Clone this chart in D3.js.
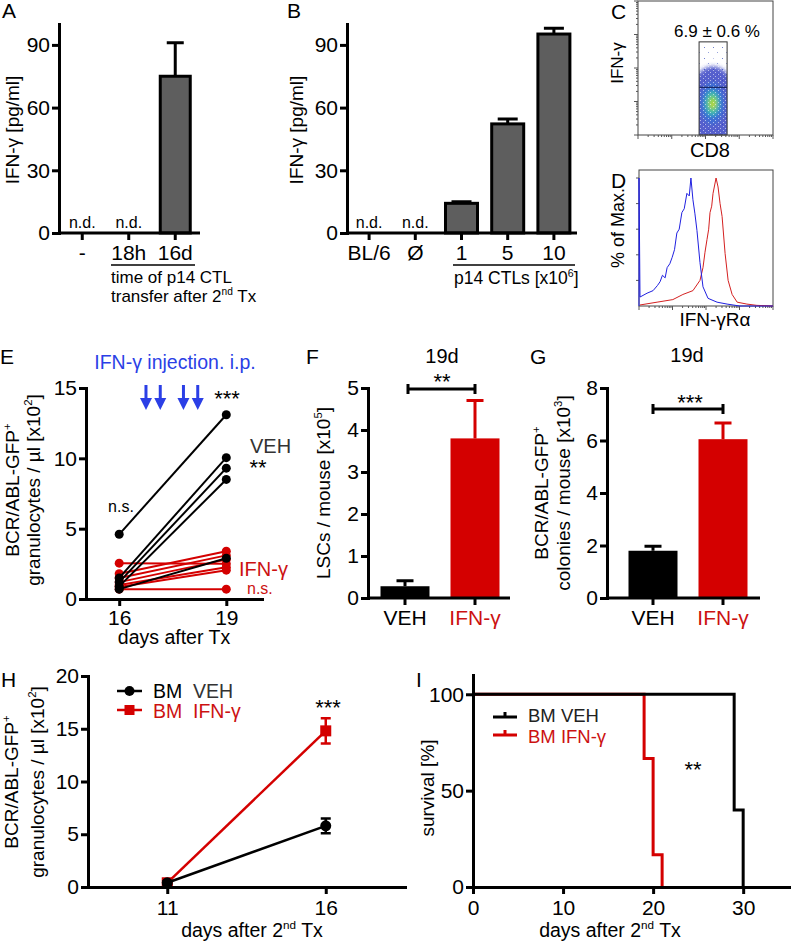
<!DOCTYPE html>
<html>
<head>
<meta charset="utf-8">
<script src="https://cdnjs.cloudflare.com/ajax/libs/d3/7.8.5/d3.min.js"></script>
<style>
  body { margin: 0; background: #fff; }
  svg text { font-family: "Liberation Sans", Arial, sans-serif; }
</style>
</head>
<body>
<svg id="canvas" width="791" height="942"></svg>
<script>
// ---------- data ----------
let aCats = ["-", "18h", "16d"]
let aMeans = [null, null, 75]
let aErrs = [null, null, 16]

let bCats = ["BL/6", "Ø", "1", "5", "10"]
let bMeans = [null, null, 14.2, 52.2, 95.2]
let bErrs = [null, null, 0.8, 2.3, 2.8]

// C: gate in decades (CD8 low, CD8 high, IFN-g low, IFN-g high)
let cGate = [1.81, 2.64, 0, 2.78]
let cQuadLine = 1.42
let cDensityCD8 = [2.22, 2.2, 2.2, 2.21, 2.22]
let cDensityIFN = [0.9, 0.95, 0.95, 0.95, 0.92]
let cSpreadCD8 = [0.75, 0.34, 0.22, 0.13, 0.05]
let cSpreadIFN = [1.15, 0.62, 0.38, 0.22, 0.09]

// D: histograms, x in decades, y in % of max
let dBlueLog = [0, 0, 0.03, 0.24, 0.42, 0.55, 0.63, 0.7, 0.78, 0.84, 0.92, 0.99, 1.06, 1.13, 1.2, 1.28, 1.35, 1.43, 1.5, 1.55, 1.61, 1.67, 1.73, 1.82, 1.91, 2.06, 2.33, 2.63, 3.01, 4]
let dBluePct = [0, 100, 7, 10, 12, 16, 19, 24, 22, 30, 33, 38, 44, 57, 60, 73, 76, 88, 86, 100, 83, 72, 59, 34, 15, 6, 3, 1.5, 0, 0]
let dRedLog = [0.03, 0.54, 1.01, 1.31, 1.61, 1.82, 1.91, 1.97, 2.03, 2.08, 2.12, 2.17, 2.21, 2.3, 2.36, 2.42, 2.48, 2.57, 2.66, 2.78, 2.93, 3.22, 3.52, 4]
let dRedPct = [0.8, 3, 5, 9, 12, 20, 30, 42, 52, 60, 73, 78, 88, 100, 93, 80, 70, 41, 20, 9, 3, 1.5, 0.5, 0]

// E: granulocytes per mouse, day 16 -> day 19
let eDays = [16, 19]
let eVeh16 = [4.6, 1.5, 1.2, 0.9, 0.7]
let eVeh19 = [13.1, 10.05, 9.3, 8.5, 2.9]
let eIfn16 = [2.55, 1.8, 1.5, 1.2, 1.0, 0.85, 0.7]
let eIfn19 = [2.5, 3.4, 3.1, 2.8, 2.25, 2.05, 0.7]
let eInjections = [16.75, 17.15, 17.8, 18.2]

// F and G
let fgCats = ["VEH", "IFN-γ"]
let fMeans = [0.28, 3.8]
let fErrs = [0.13, 0.9]
let gMeans = [1.8, 6.05]
let gErrs = [0.17, 0.62]

// H
let hDays = [11, 16]
let hVeh = [0.4, 5.8]
let hVehErr = [0.15, 0.7]
let hIfn = [0.4, 14.8]
let hIfnErr = [0.15, 1.2]

// I: survival steps
let iVehDays = [0, 29, 30]
let iVehSurv = [100, 40, 0]
let iIfnDays = [0, 19, 20, 21]
let iIfnSurv = [100, 66.7, 16.7, 0]

// ---------- helpers ----------
let svg = d3.select("#canvas")
let red = "#d40000"
let textRed = "#cc1111"
let grey = "#5e5e5e"
let blue = "#2b3fe6"
let tickFont = 21

let styleAxis = (g, size) => {
  g.attr("font-size", size)
  g.select(".domain").attr("stroke-width", 3).attr("stroke-linecap", "square")
  g.selectAll(".tick line").attr("stroke-width", 3)
  g.selectAll(".tick text").attr("fill", "#000")
}

let label = (x, y, parts, o = {}) => {
  let size = o.size || 20
  let t = svg.append("text")
    .attr("x", x).attr("y", y)
    .attr("font-size", size)
    .attr("fill", o.fill || "#000")
    .attr("text-anchor", o.anchor || "middle")
  if (o.rotate) t.attr("transform", "rotate(-90," + x + "," + y + ")")
  if (typeof parts === "string") parts = [parts]
  let cur = 0
  parts.forEach(p => {
    let sup = typeof p !== "string"
    let target = sup ? -size * 0.4 : 0
    t.append("tspan")
      .attr("dy", target - cur)
      .attr("font-size", sup ? size * 0.6 : size)
      .text(sup ? p.sup : p)
    cur = target
  })
  return t
}

let yAxis = (y, x0, ticks) => {
  let g = svg.append("g").attr("transform", "translate(" + x0 + ",0)")
    .call(d3.axisLeft(y).tickValues(ticks).tickFormat(d3.format("d"))
      .tickSize(7).tickSizeOuter(0).tickPadding(2))
  styleAxis(g, tickFont)
  return g
}

let xAxis = (x, y0, ticks, pad) => {
  let g = svg.append("g").attr("transform", "translate(0," + y0 + ")")
    .call(d3.axisBottom(x).tickValues(ticks).tickFormat(d3.format("d"))
      .tickSize(7).tickSizeOuter(0).tickPadding(pad))
  styleAxis(g, tickFont)
  return g
}

let bandAxis = (x, y0, from, to) => {
  let g = svg.append("g").attr("transform", "translate(0," + y0 + ")")
    .call(d3.axisBottom(x).tickSize(7).tickSizeOuter(0).tickPadding(5))
  styleAxis(g, tickFont)
  g.select(".domain").remove()
  svg.append("line").attr("x1", from).attr("x2", to).attr("y1", y0).attr("y2", y0)
    .attr("stroke", "#000").attr("stroke-width", 3)
  return g
}

let barPanel = (o) => {
  let x = d3.scaleBand().domain(o.cats).range(o.xRange)
  let y = d3.scaleLinear().domain(o.yDomain).range(o.yRange)
  let mid = c => x(c) + x.bandwidth() / 2
  let rows = o.cats.map((c, i) => ({ cat: c, mean: o.means[i], err: o.errs[i], i: i }))
  let shown = rows.filter(d => d.mean != null)
  let colour = d => o.fills ? o.fills[d.i] : "#000"

  svg.append("g").selectAll("path").data(shown).enter().append("path")
    .attr("d", d => "M" + mid(d.cat) + "," + y(d.mean) + "V" + y(d.mean + d.err)
      + "M" + (mid(d.cat) - o.cap / 2) + "," + y(d.mean + d.err) + "h" + o.cap)
    .attr("stroke", colour).attr("stroke-width", 3).attr("fill", "none")

  svg.append("g").selectAll("rect").data(shown).enter().append("rect")
    .attr("x", d => mid(d.cat) - o.barWidth / 2)
    .attr("y", d => y(d.mean))
    .attr("width", o.barWidth)
    .attr("height", d => y(0) - y(d.mean))
    .attr("fill", d => o.fills ? o.fills[d.i] : grey)
    .attr("stroke", o.outline ? "#000" : "none")
    .attr("stroke-width", 3)

  svg.append("g").selectAll("text").data(rows.filter(d => d.mean == null)).enter().append("text")
    .attr("x", d => mid(d.cat)).attr("y", y(0) - 5)
    .attr("text-anchor", "middle").attr("font-size", 16).text("n.d.")

  yAxis(y, o.axisFrom, o.yTicks)
  let gx = bandAxis(x, y(0), o.axisFrom, o.axisTo)
  if (o.tickColours) gx.selectAll(".tick text").attr("fill", (d, i) => o.tickColours[i])
  return { x: x, y: y, mid: mid }
}

let bracket = (x1, x2, y) => {
  svg.append("path")
    .attr("d", "M" + x1 + "," + (y - 5) + "V" + (y + 5) + "M" + x1 + "," + y + "H" + x2 + "M" + x2 + "," + (y - 5) + "V" + (y + 5))
    .attr("stroke", "#000").attr("stroke-width", 3).attr("fill", "none")
}

// ---------- A ----------
barPanel({
  cats: aCats, means: aMeans, errs: aErrs,
  xRange: [59, 198.5], axisFrom: 59, axisTo: 200,
  yDomain: [0, 100], yRange: [233, 24], yTicks: [0, 30, 60, 90],
  barWidth: 30, cap: 17, outline: true
})
svg.append("line").attr("x1", 111).attr("x2", 195).attr("y1", 265).attr("y2", 265)
  .attr("stroke", "#000").attr("stroke-width", 1.5)
label(111, 283, "time of p14 CTL", { size: 17, anchor: "start" })
label(111, 302, ["transfer after 2", { sup: "nd" }, " Tx"], { size: 17, anchor: "start" })
label(19, 130, "IFN-γ [pg/ml]", { size: 19, rotate: true })
label(2, 18, "A", { size: 21, anchor: "start" })

// ---------- B ----------
barPanel({
  cats: bCats, means: bMeans, errs: bErrs,
  xRange: [346, 577], axisFrom: 347, axisTo: 577,
  yDomain: [0, 100], yRange: [233, 24], yTicks: [0, 30, 60, 90],
  barWidth: 32, cap: 20, outline: true
})
svg.append("line").attr("x1", 453).attr("x2", 575).attr("y1", 265).attr("y2", 265)
  .attr("stroke", "#000").attr("stroke-width", 1.5)
label(454, 284, ["p14 CTLs [x10", { sup: "6" }, "]"], { size: 17.5, anchor: "start" })
label(303, 130, "IFN-γ [pg/ml]", { size: 19, rotate: true })
label(287, 18, "B", { size: 21, anchor: "start" })

// ---------- C ----------
let defs = svg.append("defs")
defs.append("filter").attr("id", "soft").attr("x", "-50%").attr("y", "-50%").attr("width", "200%").attr("height", "200%")
  .append("feGaussianBlur").attr("stdDeviation", 2.2)
let sparse = defs.append("pattern").attr("id", "sparse").attr("patternUnits", "userSpaceOnUse")
  .attr("width", 9).attr("height", 11)
sparse.append("rect").attr("x", 2).attr("y", 3).attr("width", 1).attr("height", 1).attr("fill", "#7080d0")
sparse.append("rect").attr("x", 6).attr("y", 8).attr("width", 1).attr("height", 1).attr("fill", "#98a4dc")
let speck = defs.append("pattern").attr("id", "speck").attr("patternUnits", "userSpaceOnUse")
  .attr("width", 5).attr("height", 4)
speck.append("rect").attr("x", 0).attr("y", 0).attr("width", 1).attr("height", 1).attr("fill", "#fff")
speck.append("rect").attr("x", 3).attr("y", 2).attr("width", 1).attr("height", 1).attr("fill", "#fff")
let cX = d3.scaleLinear().domain([0, 4]).range([638, 773])
let cY = d3.scaleLinear().domain([0, 4]).range([135, 1])
let gateRect = sel => sel
  .attr("x", cX(cGate[0])).attr("y", cY(cGate[3]))
  .attr("width", cX(cGate[1]) - cX(cGate[0])).attr("height", cY(cGate[2]) - cY(cGate[3]))
defs.append("clipPath").attr("id", "gateClip").append("rect").call(gateRect)

let densityColours = ["#2a3ac0", "#3a6fd6", "#3cc0b0", "#8fdc3c", "#e8d030"]
let cloud = svg.append("g").attr("clip-path", "url(#gateClip)")
cloud.append("rect").call(gateRect).attr("fill", "url(#sparse)")
cloud.append("g").attr("filter", "url(#soft)")
  .selectAll("ellipse").data(cDensityCD8).enter().append("ellipse")
  .attr("cx", d => cX(d))
  .attr("cy", (d, i) => cY(cDensityIFN[i]))
  .attr("rx", (d, i) => cX(cSpreadCD8[i]) - cX(0))
  .attr("ry", (d, i) => cY(0) - cY(cSpreadIFN[i]))
  .attr("fill", (d, i) => densityColours[i])
  .attr("opacity", (d, i) => i === 0 ? 0.8 : 0.9)
cloud.append("rect").call(gateRect).attr("fill", "url(#speck)").attr("opacity", 0.55)
cloud.append("line").attr("x1", cX(cGate[0])).attr("x2", cX(cGate[1]))
  .attr("y1", cY(cQuadLine)).attr("y2", cY(cQuadLine)).attr("stroke", "#1a2a6a").attr("stroke-width", 1.2)
svg.append("rect").call(gateRect).attr("fill", "none").attr("stroke", "#333").attr("stroke-width", 1)
svg.append("rect").attr("x", 638).attr("y", 1).attr("width", 135).attr("height", 134)
  .attr("fill", "none").attr("stroke", "#444").attr("stroke-width", 1)

let logTicks = (range, pos, horizontal) => {
  let ls = d3.scaleLog().domain([1, 1e4]).range(range)
  let ticks = ls.ticks()
  svg.append("g").selectAll("line").data(ticks).enter().append("line")
    .attr("x1", d => horizontal ? ls(d) : pos)
    .attr("x2", d => horizontal ? ls(d) : pos - (Math.log10(d) % 1 === 0 ? 4 : 2))
    .attr("y1", d => horizontal ? pos : ls(d))
    .attr("y2", d => horizontal ? pos + (Math.log10(d) % 1 === 0 ? 4 : 2) : ls(d))
    .attr("stroke", "#555").attr("stroke-width", 1)
}
logTicks([638, 773], 135, true)
logTicks([135, 1], 638, false)
label(717, 37, "6.9 ± 0.6 %", { size: 17 })
label(710, 157, "CD8", { size: 20 })
label(623, 63, "IFN-γ", { size: 17, rotate: true })
label(611, 19, "C", { size: 21, anchor: "start" })

// ---------- D ----------
let dX = d3.scaleLinear().domain([0, 4]).range([639, 773])
let dY = d3.scaleLinear().domain([0, 100]).range([306, 178])
svg.append("rect").attr("x", 639).attr("y", 170).attr("width", 134).attr("height", 136)
  .attr("fill", "none").attr("stroke", "#444").attr("stroke-width", 1)
logTicks([639, 773], 306, true)
svg.append("g").selectAll("line").data([20, 40, 60, 80, 100]).enter().append("line")
  .attr("x1", 639).attr("x2", 636).attr("y1", d => dY(d)).attr("y2", d => dY(d))
  .attr("stroke", "#555").attr("stroke-width", 1)
let histLine = d3.line().x(d => dX(d[0])).y(d => dY(d[1]))
svg.append("path").attr("d", histLine(dRedLog.map((v, i) => [v, dRedPct[i]])))
  .attr("fill", "none").attr("stroke", "#d42020").attr("stroke-width", 1)
svg.append("path").attr("d", histLine(dBlueLog.map((v, i) => [v, dBluePct[i]])))
  .attr("fill", "none").attr("stroke", "#2020e0").attr("stroke-width", 1)
label(715, 326, "IFN-γRα", { size: 19 })
label(624, 228, "% of Max.", { size: 18, rotate: true })
label(611, 188, "D", { size: 21, anchor: "start" })

// ---------- E ----------
let eX = d3.scaleLinear().domain([15.07, 20]).range([86, 262])
let eY = d3.scaleLinear().domain([0, 15]).range([599, 388])
let drawPairs = (from, to, colour) => {
  let pairs = from.map((v, i) => [v, to[i]])
  let g = svg.append("g")
  g.selectAll("line").data(pairs).enter().append("line")
    .attr("x1", eX(eDays[0])).attr("x2", eX(eDays[1]))
    .attr("y1", d => eY(d[0])).attr("y2", d => eY(d[1]))
    .attr("stroke", colour).attr("stroke-width", 2)
  g.selectAll(".a").data(from).enter().append("circle")
    .attr("cx", eX(eDays[0])).attr("cy", d => eY(d)).attr("r", 4.5).attr("fill", colour)
  g.selectAll(".b").data(to).enter().append("circle")
    .attr("cx", eX(eDays[1])).attr("cy", d => eY(d)).attr("r", 4.5).attr("fill", colour)
}
drawPairs(eIfn16, eIfn19, red)
drawPairs(eVeh16, eVeh19, "#000")
yAxis(eY, 86, [0, 5, 10, 15])
xAxis(eX, 599, eDays, 4)
svg.append("g").selectAll("path").data(eInjections).enter().append("path")
  .attr("d", d => "M" + eX(d) + ",385V402")
  .attr("stroke", blue).attr("stroke-width", 3)
svg.append("g").selectAll("path").data(eInjections).enter().append("path")
  .attr("d", d => "M" + (eX(d) - 6) + ",398L" + eX(d) + ",410L" + (eX(d) + 6) + ",398Z")
  .attr("fill", blue)
label(175, 369, "IFN-γ injection. i.p.", { size: 19.5, fill: blue })
label(227, 406, "***", { size: 22 })
label(250, 453, "VEH", { size: 20, anchor: "start", fill: "#333" })
label(258, 475, "**", { size: 22 })
label(121, 512, "n.s.", { size: 16 })
label(239, 576, "IFN-γ", { size: 20, anchor: "start", fill: textRed })
label(247, 594, "n.s.", { size: 16, anchor: "start", fill: textRed })
label(174, 644, "days after Tx", { size: 19.5 })
label(19, 490, ["BCR/ABL-GFP", { sup: "+" }], { size: 19, rotate: true })
label(40, 490, ["granulocytes / µl [x10", { sup: "2" }, "]"], { size: 19, rotate: true })
label(0, 364, "E", { size: 21, anchor: "start" })

// ---------- F ----------
let fp = barPanel({
  cats: fgCats, means: fMeans, errs: fErrs,
  xRange: [370, 510], axisFrom: 368, axisTo: 510,
  yDomain: [0, 5], yRange: [598, 388], yTicks: [0, 1, 2, 3, 4, 5],
  barWidth: 49, cap: 17, fills: ["#000", red], tickColours: ["#000", textRed]
})
bracket(fp.mid("VEH") + 3, fp.mid("IFN-γ"), 389)
label(442, 389, "**", { size: 22 })
label(442, 363, "19d", { size: 20 })
label(330, 493, ["LSCs / mouse [x10", { sup: "5" }, "]"], { size: 19, rotate: true })
label(306, 364, "F", { size: 21, anchor: "start" })

// ---------- G ----------
let gp = barPanel({
  cats: fgCats, means: gMeans, errs: gErrs,
  xRange: [618, 758], axisFrom: 607, axisTo: 760,
  yDomain: [0, 8], yRange: [598, 388], yTicks: [0, 2, 4, 6, 8],
  barWidth: 49, cap: 17, fills: ["#000", red], tickColours: ["#000", textRed]
})
bracket(gp.mid("VEH"), gp.mid("IFN-γ"), 409)
label(690, 410, "***", { size: 22 })
label(687, 362, "19d", { size: 20 })
label(548, 493, ["BCR/ABL-GFP", { sup: "+" }], { size: 19, rotate: true })
label(570, 493, ["colonies / mouse [x10", { sup: "3" }, "]"], { size: 19, rotate: true })
label(530, 364, "G", { size: 21, anchor: "start" })

// ---------- H ----------
let hX = d3.scaleLinear().domain([8.5, 18.5]).range([88, 405])
let hY = d3.scaleLinear().domain([0, 20]).range([887, 676])
let hLine = d3.line().x((d, i) => hX(hDays[i])).y(d => hY(d))
let drawSeries = (vals, errs, colour, square) => {
  svg.append("path").attr("d", hLine(vals)).attr("fill", "none").attr("stroke", colour).attr("stroke-width", 2.5)
  svg.append("g").selectAll("path").data(vals).enter().append("path")
    .attr("d", (d, i) => {
      let x = hX(hDays[i]), lo = hY(d - errs[i]), hi = hY(d + errs[i])
      return "M" + x + "," + lo + "V" + hi + "M" + (x - 5) + "," + hi + "h10M" + (x - 5) + "," + lo + "h10"
    })
    .attr("stroke", colour).attr("stroke-width", 2.5).attr("fill", "none")
  let g = svg.append("g")
  if (square) {
    g.selectAll("rect").data(vals).enter().append("rect")
      .attr("x", (d, i) => hX(hDays[i]) - 5.5).attr("y", d => hY(d) - 5.5)
      .attr("width", 11).attr("height", 11).attr("fill", colour)
  } else {
    g.selectAll("circle").data(vals).enter().append("circle")
      .attr("cx", (d, i) => hX(hDays[i])).attr("cy", d => hY(d)).attr("r", 5.5).attr("fill", colour)
  }
}
drawSeries(hIfn, hIfnErr, red, true)
drawSeries(hVeh, hVehErr, "#000", false)
yAxis(hY, 88, [0, 5, 10, 15, 20])
xAxis(hX, 887, hDays, 6)
svg.append("line").attr("x1", 117).attr("x2", 142).attr("y1", 691).attr("y2", 691).attr("stroke", "#000").attr("stroke-width", 2.5)
svg.append("circle").attr("cx", 129.5).attr("cy", 691).attr("r", 5).attr("fill", "#000")
svg.append("line").attr("x1", 117).attr("x2", 142).attr("y1", 710).attr("y2", 710).attr("stroke", red).attr("stroke-width", 2.5)
svg.append("rect").attr("x", 124.5).attr("y", 705).attr("width", 10).attr("height", 10).attr("fill", red)
label(153, 698, "BM", { size: 19.5, anchor: "start" })
label(193, 698, "VEH", { size: 19.5, anchor: "start", fill: "#333" })
label(153, 718, "BM", { size: 19.5, anchor: "start", fill: textRed })
label(193, 718, "IFN-γ", { size: 19.5, anchor: "start", fill: textRed })
label(328, 715, "***", { size: 22 })
label(252, 937, ["days after 2", { sup: "nd" }, " Tx"], { size: 19.5 })
label(18, 782, ["BCR/ABL-GFP", { sup: "+" }], { size: 19, rotate: true })
label(44, 782, ["granulocytes / µl [x10", { sup: "2" }, "]"], { size: 19, rotate: true })
label(1, 687, "H", { size: 21, anchor: "start" })

// ---------- I ----------
let iX = d3.scaleLinear().domain([0, 35.2]).range([473, 790])
let iY = d3.scaleLinear().domain([0, 110]).range([887, 675])
let stepLine = d3.line().x(d => iX(d[0])).y(d => iY(d[1])).curve(d3.curveStepAfter)
svg.append("path").attr("d", stepLine(iIfnDays.map((v, i) => [v, iIfnSurv[i]])))
  .attr("fill", "none").attr("stroke", red).attr("stroke-width", 3)
svg.append("path").attr("d", stepLine(iVehDays.map((v, i) => [v, iVehSurv[i]])))
  .attr("fill", "none").attr("stroke", "#000").attr("stroke-width", 3)
yAxis(iY, 473, [0, 50, 100])
xAxis(iX, 887, [0, 10, 20, 30], 6)
svg.append("path").attr("d", "M493,717H517M505,717V712").attr("stroke", "#000").attr("stroke-width", 3).attr("fill", "none")
svg.append("path").attr("d", "M493,735H517M505,735V730").attr("stroke", red).attr("stroke-width", 3).attr("fill", "none")
label(528, 722, "BM VEH", { size: 18.5, anchor: "start", fill: "#222" })
label(528, 743, "BM IFN-γ", { size: 18.5, anchor: "start", fill: textRed })
label(693, 777, "**", { size: 22 })
label(610, 937, ["days after 2", { sup: "nd" }, " Tx"], { size: 19.5 })
label(434, 788, "survival [%]", { size: 19, rotate: true })
label(416, 687, "I", { size: 21, anchor: "start" })
</script>
</body>
</html>
